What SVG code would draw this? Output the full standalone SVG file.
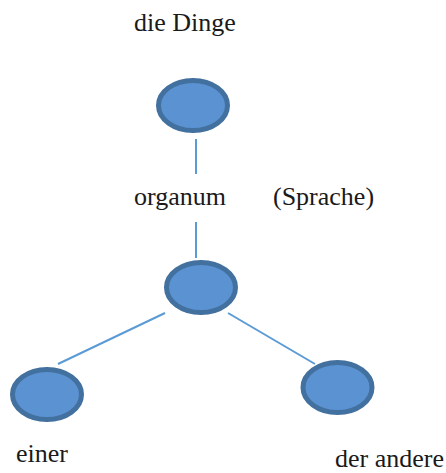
<svg xmlns="http://www.w3.org/2000/svg" width="446" height="473" viewBox="0 0 446 473">
  <style>
    .node { fill: #5B92D2; stroke: #42709F; stroke-width: 5; }
    .edge { stroke: #5B9BD5; stroke-width: 2; fill: none; }
    .label { font-family: "Liberation Serif", "Times New Roman", serif; font-size: 26px; fill: #1a1a1a; }
  </style>
  <rect width="446" height="473" fill="#ffffff"/>

  <g id="connectors">
    <line class="edge" x1="196" y1="139" x2="196" y2="174"/>
    <line class="edge" x1="196" y1="222" x2="196" y2="258"/>
    <line class="edge" x1="165" y1="313" x2="58" y2="364"/>
    <line class="edge" x1="228" y1="313" x2="315" y2="364"/>
  </g>

  <g id="dinge">
    <ellipse class="node" cx="193" cy="105.5" rx="34.5" ry="25"/>
    <text class="label" x="134" y="31">die Dinge</text>
  </g>

  <g id="organum">
    <ellipse class="node" cx="201" cy="287.5" rx="34.5" ry="25"/>
    <text class="label" x="134" y="205">organum</text>
  </g>

  <g id="sprache">
    <text class="label" x="273" y="205">(Sprache)</text>
  </g>

  <g id="einer">
    <ellipse class="node" cx="47" cy="394.5" rx="34.5" ry="25"/>
    <text class="label" x="16" y="462">einer</text>
  </g>

  <g id="der-andere">
    <ellipse class="node" cx="337.5" cy="387.5" rx="34.5" ry="25"/>
    <text class="label" x="335" y="467">der andere</text>
  </g>
</svg>
